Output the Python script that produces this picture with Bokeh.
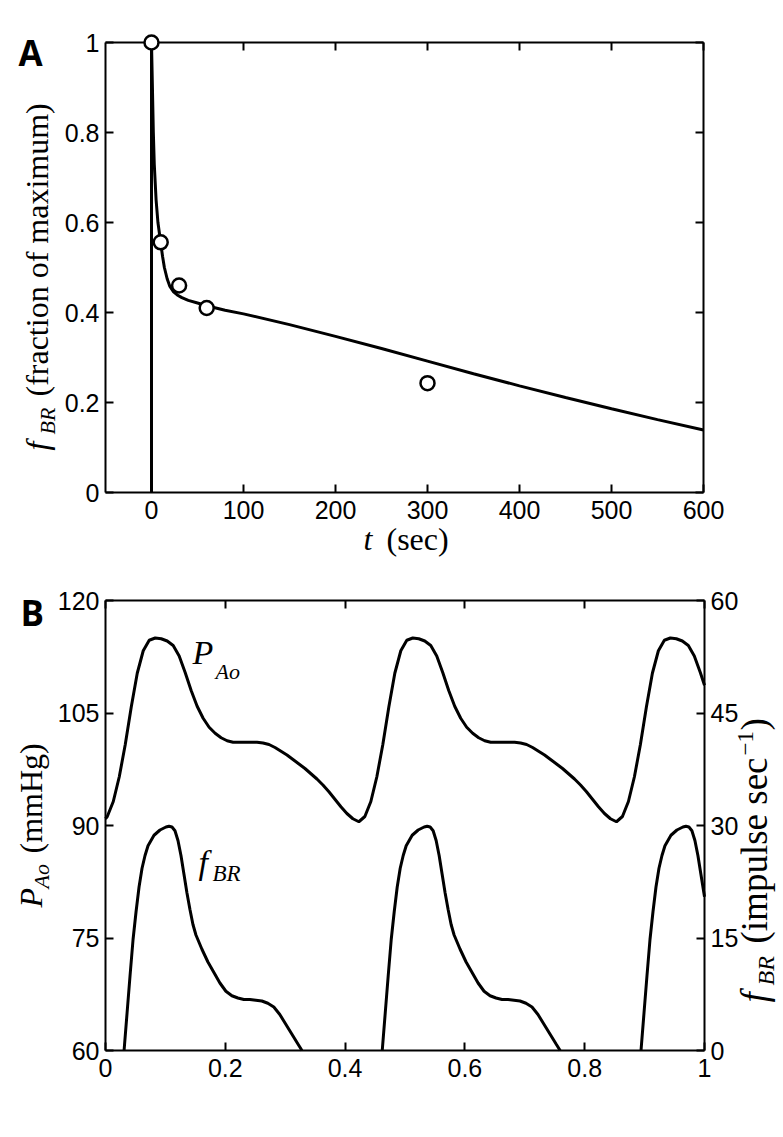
from bokeh.plotting import figure
from bokeh.models import Range1d, LinearAxis, FixedTicker, Label
from bokeh.layouts import column
from bokeh.embed import file_html
from bokeh.resources import INLINE

NAN = float("nan")

# ---------------- Panel A data ----------------
a_t_fit = [0, 0, 1, 2, 3, 5, 7, 10, 12, 14, 17, 20, 24, 28, 33, 40, 50, 60, 80, 100,
           150, 200, 250, 300, 350, 400, 450, 500, 550, 600]
a_f_fit = [0, 1.0, 0.90, 0.80, 0.73, 0.65, 0.60, 0.555, 0.525, 0.50, 0.475, 0.458, 0.446,
           0.439, 0.433, 0.427, 0.421, 0.415, 0.405, 0.397, 0.373, 0.347, 0.320, 0.292,
           0.264, 0.237, 0.211, 0.186, 0.162, 0.139]
a_t_obs = [0, 10, 30, 60, 300]
a_f_obs = [1.0, 0.556, 0.46, 0.41, 0.243]
a_xlim = [-50, 600]
a_ylim = [0, 1]
a_xticks = [0, 100, 200, 300, 400, 500, 600]
a_xlabels = ["0", "100", "200", "300", "400", "500", "600"]
a_yticks = [0, 0.2, 0.4, 0.6, 0.8, 1]
a_ylabels = ["0", "0.2", "0.4", "0.6", "0.8", "1"]

# ---------------- Panel B data ----------------
b_t_p = [0.000,
         0.003, 0.013, 0.023, 0.033, 0.043, 0.053, 0.063, 0.073, 0.083, 0.093,
         0.103, 0.113, 0.123, 0.133, 0.143, 0.153, 0.163, 0.173, 0.183, 0.193,
         0.203, 0.213, 0.223, 0.233, 0.243, 0.253, 0.263, 0.273, 0.283, 0.293,
         0.303, 0.313, 0.323, 0.333, 0.343, 0.353, 0.363, 0.373, 0.383, 0.393,
         0.403, 0.413, 0.423,
         0.433, 0.443, 0.453, 0.463, 0.473, 0.483, 0.493, 0.503, 0.513, 0.523,
         0.533, 0.543, 0.553, 0.563, 0.573, 0.583, 0.593, 0.603, 0.613, 0.623,
         0.633, 0.643, 0.653, 0.663, 0.673, 0.683, 0.693, 0.703, 0.713, 0.723,
         0.733, 0.743, 0.753, 0.763, 0.773, 0.783, 0.793, 0.803, 0.813, 0.823,
         0.833, 0.843, 0.853,
         0.863, 0.873, 0.883, 0.893, 0.903, 0.913, 0.923, 0.933, 0.943, 0.953,
         0.963, 0.973, 0.983, 0.993, 1.000]
b_p_ao = [90.9,
          91.2, 93.2, 96.5, 100.8, 105.8, 110.3, 113.3, 114.7, 115.0, 114.9,
          114.6, 114.0, 112.6, 110.4, 108.0, 105.9, 104.3, 103.1, 102.3, 101.7,
          101.3, 101.1, 101.1, 101.1, 101.1, 101.1, 101.0, 100.8, 100.4, 99.9,
          99.4, 98.8, 98.2, 97.6, 96.9, 96.2, 95.4, 94.5, 93.5, 92.5,
          91.6, 90.9, 90.5,
          91.2, 93.2, 96.5, 100.8, 105.8, 110.3, 113.3, 114.7, 115.0, 114.9,
          114.6, 114.0, 112.6, 110.4, 108.0, 105.9, 104.3, 103.1, 102.3, 101.7,
          101.3, 101.1, 101.1, 101.1, 101.1, 101.1, 101.0, 100.8, 100.4, 99.9,
          99.4, 98.8, 98.2, 97.6, 96.9, 96.2, 95.4, 94.5, 93.5, 92.5,
          91.6, 90.9, 90.5,
          91.2, 93.2, 96.5, 100.8, 105.8, 110.3, 113.3, 114.7, 115.0, 114.9,
          114.6, 114.0, 112.6, 110.4, 108.7]

b_t_f = [0.031, 0.036, 0.041, 0.046, 0.051, 0.056, 0.061, 0.066, 0.071, 0.081,
         0.091, 0.101, 0.106, 0.111, 0.116, 0.121, 0.126, 0.131, 0.136, 0.141,
         0.146, 0.151, 0.161, 0.171, 0.181, 0.191, 0.201, 0.211, 0.221, 0.231,
         0.241, 0.251, 0.261, 0.271, 0.281, 0.291, 0.301, 0.311, 0.321, 0.328,
         NAN,
         0.462, 0.467, 0.472, 0.477, 0.482, 0.487, 0.492, 0.497, 0.502, 0.512,
         0.522, 0.532, 0.537, 0.542, 0.547, 0.552, 0.557, 0.562, 0.567, 0.572,
         0.577, 0.582, 0.592, 0.602, 0.612, 0.622, 0.632, 0.642, 0.652, 0.662,
         0.672, 0.682, 0.692, 0.702, 0.712, 0.722, 0.732, 0.742, 0.752, 0.759,
         NAN,
         0.894, 0.899, 0.904, 0.909, 0.914, 0.919, 0.924, 0.929, 0.934, 0.944,
         0.954, 0.964, 0.969, 0.974, 0.979, 0.984, 0.989, 0.994, 0.999, 1.000]
b_f_br = [0, 5.0, 10.0, 14.8, 18.5, 21.8, 24.3, 26.0, 27.3, 28.7,
          29.4, 29.8, 29.9, 29.8, 29.3, 28.0, 26.0, 23.5, 21.0, 18.8,
          16.8, 15.4, 13.5, 11.8, 10.4, 9.0, 7.9, 7.3, 7.0, 6.8,
          6.8, 6.7, 6.6, 6.3, 5.8, 4.8, 3.5, 2.2, 0.9, 0,
          NAN,
          0, 5.0, 10.0, 14.8, 18.5, 21.8, 24.3, 26.0, 27.3, 28.7,
          29.4, 29.8, 29.9, 29.8, 29.3, 28.0, 26.0, 23.5, 21.0, 18.8,
          16.8, 15.4, 13.5, 11.8, 10.4, 9.0, 7.9, 7.3, 7.0, 6.8,
          6.8, 6.7, 6.6, 6.3, 5.8, 4.8, 3.5, 2.2, 0.9, 0,
          NAN,
          0, 5.0, 10.0, 14.8, 18.5, 21.8, 24.3, 26.0, 27.3, 28.7,
          29.4, 29.8, 29.9, 29.8, 29.3, 28.0, 26.0, 23.5, 21.0, 20.5]
b_xlim = [0, 1]
b_ylim = [60, 120]
b_rlim = [0, 60]
b_xticks = [0, 0.2, 0.4, 0.6, 0.8, 1]
b_xlabels = ["0", "0.2", "0.4", "0.6", "0.8", "1"]
b_lticks = [60, 75, 90, 105, 120]
b_rticks = [0, 15, 30, 45, 60]

TICK_FONT = "Liberation Sans"
TICK_SIZE = "25px"
SERIF = "Liberation Serif"
W = 783
BASE_SHIFT = 0.43  # measured offset of rendered baseline below anchor (in em)


def span_range(lim, lo_px, hi_px, total_px):
    """Range whose [lim0, lim1] maps onto pixel interval [lo_px, hi_px] of a canvas."""
    per = (lim[1] - lim[0]) / (hi_px - lo_px)
    return Range1d(lim[0] - lo_px * per, lim[1] + (total_px - hi_px) * per)


def style_axis(ax, ticks, labels=None, standoff=6, mirror=False):
    if mirror:
        ax.ticker = FixedTicker(ticks=[], minor_ticks=ticks)
        ax.minor_tick_in = 8
        ax.minor_tick_out = 0
        ax.minor_tick_line_width = 2
        ax.minor_tick_line_color = "black"
    else:
        ax.ticker = FixedTicker(ticks=ticks)
        ax.minor_tick_in = 0
        ax.minor_tick_out = 0
    ax.major_tick_in = 8
    ax.major_tick_out = 0
    ax.axis_line_width = 2
    ax.axis_line_color = "black"
    ax.major_tick_line_width = 2
    ax.major_tick_line_color = "black"
    ax.major_label_text_font = TICK_FONT
    ax.major_label_text_font_size = TICK_SIZE
    ax.major_label_text_color = "black"
    ax.major_label_standoff = standoff
    if labels is not None:
        ax.major_label_overrides = dict(zip(ticks, labels))


def lab(p, x, y, text, size, style="normal", rotated=False, font=SERIF):
    """x, y: wanted baseline start, screen px from the canvas' bottom-left."""
    if rotated:
        x = x - BASE_SHIFT * size
        angle = 1.5707963267948966
    else:
        y = y + BASE_SHIFT * size
        angle = 0.0
    p.add_layout(Label(x=x, y=y, x_units="screen", y_units="screen", text=text,
                       text_font=font, text_font_size=f"{size}px",
                       text_font_style=style, angle=angle, text_color="black",
                       text_align="left", text_baseline="alphabetic"))


def base_fig(h, xr, yr):
    p = figure(width=W, height=h, x_range=xr, y_range=yr,
               x_axis_type=None, y_axis_type=None,
               output_backend="svg", toolbar_location=None,
               min_border=0)
    p.xgrid.visible = False
    p.ygrid.visible = False
    p.outline_line_color = None
    p.background_fill_color = "white"
    p.border_fill_color = "white"
    return p


# ---------------- Panel A ----------------
HA = 560
pa = base_fig(HA, span_range(a_xlim, 105, 703, W),
              span_range(a_ylim, HA - 492, HA - 42, HA))

ax_b = LinearAxis(fixed_location=a_ylim[0], bounds=tuple(a_xlim))
style_axis(ax_b, a_xticks, a_xlabels, standoff=8)
pa.add_layout(ax_b, "below")
ax_l = LinearAxis(fixed_location=a_xlim[0], bounds=tuple(a_ylim))
style_axis(ax_l, a_yticks, a_ylabels)
pa.add_layout(ax_l, "left")
ax_t = LinearAxis(fixed_location=a_ylim[1], bounds=tuple(a_xlim))
style_axis(ax_t, a_xticks, mirror=True)
pa.add_layout(ax_t, "above")
ax_r = LinearAxis(fixed_location=a_xlim[1], bounds=tuple(a_ylim))
style_axis(ax_r, a_yticks, mirror=True)
pa.add_layout(ax_r, "right")

pa.line(a_t_fit, a_f_fit, line_color="black", line_width=3)
obs = pa.scatter(a_t_obs, a_f_obs, size=14, marker="circle", fill_color="white",
                 line_color="black", line_width=2.5)
obs.level = "overlay"

lab(pa, 18, HA - 67, "A", 35, "bold", font="Open Sans")
lab(pa, 363, HA - 552, "t", 32, "italic")
lab(pa, 386, HA - 552, "(sec)", 32)
lab(pa, 50, HA - 450, "f", 32, "italic", True)
lab(pa, 56, HA - 434, "BR", 22, "italic", True)
lab(pa, 50, HA - 396, "(fraction of maximum)", 32, "normal", True)

# ---------------- Panel B ----------------
HB = 570
TOP_B = HA  # page y where panel B starts
pb = base_fig(HB, span_range(b_xlim, 105, 704, W),
              span_range(b_ylim, TOP_B + HB - 1050, TOP_B + HB - 600, HB))
pb.extra_y_ranges = {"fbr": span_range(b_rlim, TOP_B + HB - 1050, TOP_B + HB - 600, HB)}

bx_b = LinearAxis(fixed_location=b_ylim[0], bounds=tuple(b_xlim))
style_axis(bx_b, b_xticks, b_xlabels, standoff=8)
pb.add_layout(bx_b, "below")
by_l = LinearAxis(fixed_location=b_xlim[0], bounds=tuple(b_ylim))
style_axis(by_l, b_lticks)
pb.add_layout(by_l, "left")
bx_t = LinearAxis(fixed_location=b_ylim[1], bounds=tuple(b_xlim))
style_axis(bx_t, b_xticks, mirror=True)
pb.add_layout(bx_t, "above")
by_r = LinearAxis(y_range_name="fbr", fixed_location=b_xlim[1], bounds=tuple(b_rlim))
style_axis(by_r, b_rticks)
pb.add_layout(by_r, "right")

pb.line(b_t_p, b_p_ao, line_color="black", line_width=3)
pb.line(b_t_f, b_f_br, line_color="black", line_width=3, y_range_name="fbr")

Y = TOP_B + HB  # page y of panel B's bottom edge
lab(pb, 20, Y - 627, "B", 35, "bold", font="Open Sans")
lab(pb, 192, Y - 667, "P", 34, "italic")
lab(pb, 215, Y - 680, "Ao", 22, "italic")
lab(pb, 198, Y - 877, "f", 34, "italic")
lab(pb, 212, Y - 883, "BR", 23, "italic")

lab(pb, 44, Y - 907, "P", 32, "italic", True)
lab(pb, 50, Y - 888, "Ao", 22, "italic", True)
lab(pb, 44, Y - 853, "(mmHg)", 32, "normal", True)

lab(pb, 770, Y - 1002, "f", 37, "italic", True)
lab(pb, 776, Y - 985, "BR", 24, "italic", True)
lab(pb, 770, Y - 943, "(impulse sec", 37, "normal", True)
lab(pb, 755, Y - 755, "\u22121", 23, "normal", True)
lab(pb, 770, Y - 730, ")", 37, "normal", True)

layout = column(pa, pb)
open("out.html", "w").write(file_html(layout, INLINE))
